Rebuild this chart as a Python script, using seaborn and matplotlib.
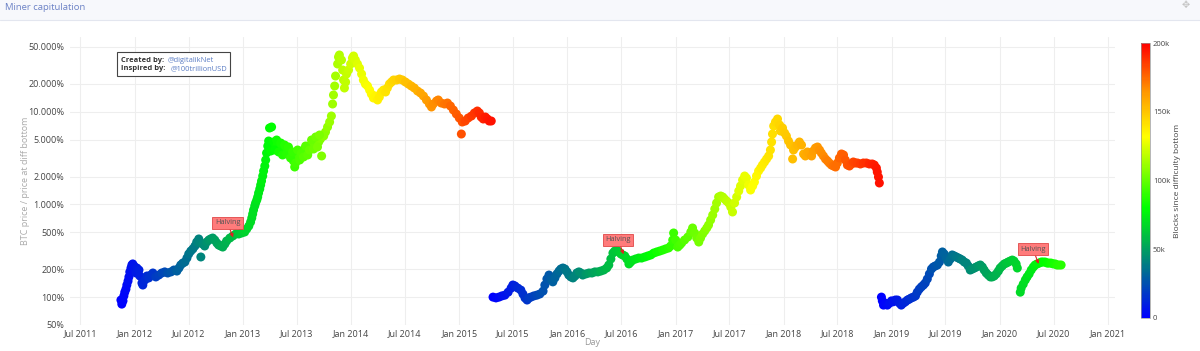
import numpy as np
import pandas as pd
import matplotlib
matplotlib.use('Agg')
import matplotlib.pyplot as plt
import matplotlib.dates as mdates
from matplotlib.colors import LinearSegmentedColormap, Normalize
from matplotlib.cm import ScalarMappable
from matplotlib.patches import Rectangle
from matplotlib.lines import Line2D
from matplotlib.ticker import FixedLocator, NullLocator
import seaborn as sns

# cycle 1: difficulty bottom, days since bottom, price ratio (%), blocks since bottom (thousands)
c1_start = '2011-11-15'
c1_days = [0, 3, 7, 10, 13, 17, 20, 24, 27, 30,
           34, 37, 40, 44, 47, 51, 54, 61, 64, 71,
           74, 81, 88, 94, 101, 108, 118, 128, 138, 148,
           158, 169, 179, 189, 196, 202, 209, 216, 223, 229,
           236, 243, 250, 256, 263, 266, 270, 277, 283, 290,
           297, 303, 310, 317, 324, 330, 337, 344, 351, 357,
           368, 378, 388, 398, 408, 418, 425, 432, 438, 442,
           445, 448, 452, 455, 459, 462, 465, 469, 472, 475,
           479, 482, 486, 489, 492, 496, 499, 502, 509, 506,
           516, 523, 529, 536, 543, 550, 556, 563, 570, 577,
           583, 587, 593, 600, 607, 614, 620, 627, 634, 641,
           647, 654, 661, 668, 674, 678, 685, 691, 698, 705,
           711, 715, 718, 722, 725, 732, 735, 738, 745, 749,
           752, 755, 759, 762, 769, 776, 782, 786, 792, 799,
           806, 813, 819, 826, 833, 840, 846, 853, 860, 867,
           873, 880, 887, 894, 900, 907, 914, 921, 931, 941,
           951, 961, 971, 981, 991, 1002, 1012, 1022, 1032, 1042,
           1049, 1055, 1066, 1072, 1082, 1093, 1103, 1113, 1123, 1133,
           1143, 1150, 1153, 1163, 1173, 1184, 1194, 1204, 1211, 1217,
           1224, 1231, 1238, 1244, 1251,
           519, 526, 533, 540, 546, 553, 560, 566, 573, 580,
           590, 597, 604, 610, 617, 624, 631, 637, 644, 651,
           658, 664, 671]
c1_pct = [93, 84, 91, 103, 113, 122, 135, 149, 165, 187,
          206, 222, 228, 217, 196, 182, 206, 196, 169, 142,
          135, 153, 169, 161, 173, 182, 165, 173, 182, 187,
          182, 187, 196, 191, 206, 222, 233, 239, 264, 292,
          314, 331, 356, 393, 424, 384, 271, 374, 356, 393,
          413, 424, 434, 413, 384, 365, 356, 347, 374, 403,
          434, 457, 480, 480, 492, 504, 543, 585, 646, 714,
          788, 871, 962, 1037, 1117, 1203, 1329, 1467, 1621, 1790,
          2027, 2295, 2599, 3017, 3591, 4272, 4836, 6681, 6849, 3773,
          4718, 4167, 4490, 3965, 4272, 3868, 4064, 3868, 3591, 3251,
          2943, 2535, 3170, 3333, 3417, 3773, 3965, 3681, 4167, 4379,
          4718, 4490, 4958, 4718, 5082, 3333, 5474, 6048, 6849, 7754,
          9000, 12130, 15170, 18970, 24320, 32780, 38990, 40980, 36190, 28230,
          22020, 18050, 20950, 25550, 28230, 32780, 38030, 39970, 36190, 32780,
          29660, 25550, 22020, 19930, 18970, 17170, 15550, 14080, 14790, 13400,
          14430, 16340, 17170, 16340, 18050, 19930, 20950, 22020, 22020, 22570,
          22020, 20950, 19930, 18970, 18050, 16750, 15940, 14790, 13400, 12130,
          11260, 12130, 13070, 13400, 12430, 12130, 12430, 11540, 10450, 9460,
          8564, 5754, 7754, 7950, 8564, 9000, 9700, 10190, 9700, 8780,
          8355, 8780, 8355, 7950, 7950,
          3868, 4958, 3681, 4603, 3417, 4379, 3503, 4167, 3170, 3681,
          2800, 3868, 3017, 3591, 3251, 4272, 3417, 3868, 4958, 3965,
          5342, 4167, 5613]
c1_kblocks = [0, 0, 1, 2, 2, 3, 3, 4, 4, 5,
              5, 6, 6, 7, 7, 8, 8, 10, 10, 11,
              12, 13, 14, 15, 16, 17, 19, 20, 22, 23,
              25, 27, 28, 30, 31, 32, 33, 34, 35, 36,
              37, 38, 39, 40, 41, 42, 42, 43, 44, 46,
              47, 48, 49, 50, 51, 52, 53, 54, 55, 56,
              58, 59, 61, 62, 64, 66, 67, 68, 69, 69,
              70, 70, 71, 71, 72, 73, 73, 74, 74, 75,
              75, 76, 76, 77, 77, 78, 78, 79, 80, 79,
              81, 82, 83, 84, 85, 86, 87, 88, 89, 91,
              92, 92, 93, 94, 95, 96, 97, 98, 100, 101,
              102, 103, 104, 105, 106, 106, 108, 108, 110, 111,
              112, 112, 113, 113, 114, 115, 115, 116, 117, 118,
              118, 119, 119, 120, 121, 122, 123, 123, 124, 125,
              127, 128, 129, 130, 131, 132, 133, 134, 135, 136,
              137, 138, 139, 140, 141, 142, 143, 145, 146, 148,
              149, 151, 152, 154, 156, 157, 159, 160, 162, 164,
              165, 166, 167, 168, 170, 172, 173, 175, 176, 178,
              179, 181, 181, 183, 184, 186, 187, 189, 190, 191,
              192, 193, 194, 195, 196,
              81, 83, 84, 85, 86, 87, 88, 89, 90, 91,
              93, 94, 95, 96, 97, 98, 99, 100, 101, 102,
              103, 104, 105]

# cycle 2
c2_start = '2015-04-25'
c2_days = [0, 10, 20, 30, 40, 51, 61, 67, 74, 84,
           94, 101, 108, 115, 121, 128, 138, 148, 158, 169,
           175, 182, 189, 196, 202, 209, 216, 223, 229, 236,
           243, 250, 256, 263, 270, 277, 283, 290, 297, 303,
           314, 324, 334, 344, 354, 364, 374, 384, 391, 398,
           405, 411, 418, 425, 432, 438, 445, 452, 459, 465,
           472, 482, 492, 502, 513, 523, 533, 543, 553, 563,
           573, 583, 593, 600, 607, 610, 617, 624, 631, 637,
           647, 658, 668, 674, 681, 688, 695, 701, 708, 715,
           722, 728, 735, 742, 749, 755, 762, 769, 776, 782,
           789, 796, 803, 809, 816, 823, 830, 836, 843, 850,
           856, 863, 870, 877, 883, 890, 897, 904, 910, 917,
           924, 931, 937, 941, 944, 948, 954, 961, 968, 971,
           978, 985, 991, 998, 1005, 1012, 1015, 1022, 1028, 1035,
           1042, 1049, 1055, 1062, 1069, 1076, 1082, 1089, 1096, 1103,
           1109, 1116, 1123, 1130, 1136, 1143, 1150, 1157, 1163, 1170,
           1177, 1184, 1190, 1197, 1204, 1211, 1217, 1224, 1231, 1241,
           1251, 1261, 1271, 1281, 1288, 1295, 1298, 1302, 1305]
c2_pct = [100, 98, 100, 103, 105, 113, 125, 135, 132, 125,
          119, 108, 98, 93, 98, 100, 103, 105, 108, 116,
          135, 157, 173, 157, 146, 161, 178, 191, 201, 206,
          201, 187, 173, 165, 161, 169, 182, 187, 182, 173,
          178, 182, 182, 187, 187, 191, 196, 206, 222, 258,
          299, 314, 322, 307, 292, 285, 278, 258, 228, 239,
          251, 258, 264, 264, 271, 278, 285, 299, 307, 314,
          322, 331, 339, 356, 413, 492, 413, 347, 365, 384,
          413, 445, 504, 557, 492, 434, 393, 434, 480, 517,
          557, 600, 679, 769, 893, 1037, 1203, 1233, 1203, 1145,
          1089, 1037, 938, 829, 1037, 1203, 1396, 1581, 1835, 2027,
          1929, 1621, 1431, 1581, 1746, 2027, 2295, 2473, 2664, 2871,
          3093, 3333, 3868, 4718, 5754, 7021, 7754, 8355, 7197, 6201,
          6681, 5899, 5474, 4836, 4379, 3093, 3868, 4167, 4379, 4718,
          4379, 3503, 3333, 3681, 3503, 3333, 3773, 4064, 4167, 3868,
          3591, 3333, 3093, 2943, 2800, 2664, 2599, 2535, 2800, 3170,
          3503, 3417, 3017, 2664, 2599, 2732, 2871, 2800, 2800, 2732,
          2800, 2800, 2732, 2732, 2664, 2473, 2239, 1977, 1704]
c2_kblocks = [0, 2, 3, 5, 6, 8, 9, 10, 11, 13,
              14, 15, 16, 17, 18, 19, 21, 22, 24, 25,
              26, 27, 28, 29, 30, 31, 32, 33, 34, 35,
              36, 38, 38, 39, 41, 42, 42, 44, 45, 45,
              47, 49, 50, 52, 53, 55, 56, 58, 59, 60,
              61, 62, 63, 64, 65, 66, 67, 68, 69, 70,
              71, 72, 74, 75, 77, 78, 80, 81, 83, 84,
              86, 87, 89, 90, 91, 92, 93, 94, 95, 96,
              97, 99, 100, 101, 102, 103, 104, 105, 106, 107,
              108, 109, 110, 111, 112, 113, 114, 115, 116, 117,
              118, 119, 120, 121, 122, 123, 125, 125, 126, 128,
              128, 129, 131, 132, 132, 134, 135, 136, 137, 138,
              139, 140, 141, 141, 142, 142, 143, 144, 145, 146,
              147, 148, 149, 150, 151, 152, 152, 153, 154, 155,
              156, 157, 158, 159, 160, 161, 162, 163, 164, 165,
              166, 167, 168, 170, 170, 171, 173, 174, 174, 176,
              177, 178, 179, 180, 181, 182, 183, 184, 185, 186,
              188, 189, 191, 192, 193, 194, 195, 195, 196]

# cycle 3
c3_start = '2018-11-27'
c3_days = [0, 3, 7, 13, 20, 27, 34, 40, 47, 54,
           61, 67, 74, 81, 88, 94, 101, 108, 115, 121,
           128, 135, 142, 148, 155, 162, 169, 175, 182, 189,
           196, 202, 206, 212, 219, 226, 233, 239, 246, 253,
           260, 266, 273, 280, 287, 293, 300, 307, 314, 320,
           327, 334, 341, 347, 354, 361, 368, 374, 381, 388,
           395, 401, 408, 415, 422, 428, 435, 442, 448, 455,
           459, 469, 472, 479, 486, 492, 499, 506, 513, 519,
           526, 533, 540, 546, 553, 560, 566, 573, 580, 587,
           593, 600, 607]
c3_pct = [100, 91, 82, 86, 82, 86, 91, 89, 93, 93,
          86, 82, 86, 89, 93, 95, 98, 100, 103, 113,
          122, 129, 135, 142, 157, 178, 201, 211, 217, 222,
          239, 278, 307, 292, 264, 239, 258, 285, 278, 271,
          264, 258, 251, 239, 233, 217, 196, 201, 206, 211,
          217, 222, 211, 196, 182, 173, 165, 165, 169, 178,
          191, 206, 217, 228, 233, 239, 245, 251, 245, 228,
          206, 113, 125, 138, 153, 165, 178, 196, 211, 222,
          228, 233, 239, 239, 239, 233, 233, 233, 228, 228,
          222, 222, 222]
c3_kblocks = [0, 0, 1, 2, 3, 4, 5, 6, 7, 8,
              9, 10, 11, 12, 13, 14, 15, 16, 17, 18,
              19, 20, 21, 21, 22, 23, 25, 25, 26, 27,
              28, 29, 30, 31, 32, 33, 34, 35, 36, 37,
              38, 39, 40, 41, 42, 42, 44, 45, 46, 46,
              47, 48, 49, 50, 51, 52, 53, 54, 55, 56,
              57, 58, 59, 60, 61, 62, 63, 64, 65, 66,
              67, 68, 68, 69, 70, 71, 72, 73, 74, 75,
              76, 77, 78, 79, 80, 81, 82, 83, 84, 85,
              86, 87, 88]

halving_dates = ['2012-11-28', '2016-07-09', '2020-05-11']
halving_pct = [440, 290, 228]

ytick_vals = [50, 100, 200, 500, 1000, 2000, 5000, 10000, 20000, 50000]
cbar_ticks = [0, 50000, 100000, 150000, 200000]
cbar_labels = ['0', '50k', '100k', '150k', '200k']

# build one frame
frames = []
for start, days, pct, kb in [(c1_start, c1_days, c1_pct, c1_kblocks),
                             (c2_start, c2_days, c2_pct, c2_kblocks),
                             (c3_start, c3_days, c3_pct, c3_kblocks)]:
    frames.append(pd.DataFrame({
        'Day': pd.Timestamp(start) + pd.to_timedelta(days, unit='D'),
        'pct': pct,
        'blocks': np.array(kb) * 1000,
    }))
df = pd.concat(frames, ignore_index=True)

sns.set_style('white')
plt.rcParams['font.family'] = ['Open Sans', 'DejaVu Sans']

cmap = LinearSegmentedColormap.from_list(
    'cap', [(0, '#0000ff'), (0.4, '#00ff00'), (0.66, '#ffff00'), (0.82, '#ff9900'), (1, '#ff0000')])

W, H = 1200, 351
fig = plt.figure(figsize=(W / 100, H / 100), dpi=100)

# header band
fig.add_artist(Rectangle((0, 1 - 20 / H), 1, 20 / H, transform=fig.transFigure,
                         facecolor='#f7f8fc', edgecolor='none', zorder=0))
fig.add_artist(Line2D([0, 1], [1 - 20 / H] * 2, transform=fig.transFigure, color='#e3e6ef', lw=0.8))
fig.text(5 / W, 1 - 7 / H, 'Miner capitulation', fontsize=6.8, color='#6c82c6', va='center')
fig.text(1186 / W, 1 - 6 / H, '\u2725', fontsize=7, color='#c4c4c4', ha='center', va='center')

ax = fig.add_axes([70 / W, 26 / H, 1045 / W, 288 / H])
sns.scatterplot(data=df, x='Day', y='pct', hue='blocks', palette=cmap, hue_norm=(0, 200000),
                s=42, linewidth=0, legend=False, ax=ax)

ax.set_yscale('log')
ax.set_ylim(50, 64100)
ax.set_xlim(pd.Timestamp('2011-05-27'), pd.Timestamp('2021-01-24'))
ax.yaxis.set_major_locator(FixedLocator(ytick_vals))
ax.yaxis.set_minor_locator(NullLocator())
ax.set_yticklabels([f'{v:,}'.replace(',', '.') + '%' for v in ytick_vals])
ax.xaxis.set_major_locator(mdates.MonthLocator(bymonth=[1, 7]))
ax.xaxis.set_major_formatter(mdates.DateFormatter('%b %Y'))
ax.grid(True, color='#eeeeee', linewidth=0.8)
for sp in ax.spines.values():
    sp.set_visible(False)
ax.tick_params(length=0, labelsize=6.5, colors='#444444')
ax.tick_params(axis='y', pad=4)
ax.tick_params(axis='x', pad=3)

ax.set_ylabel('BTC price / price at diff bottom', fontsize=6.5, color='#aaaaaa')
ax.yaxis.set_label_coords(-0.038, 0.5)
ax.set_xlabel('Day', fontsize=6.5, color='#999999')
ax.xaxis.set_label_coords(0.5, -0.045)

for d, p in zip(halving_dates, halving_pct):
    ax.annotate('Halving', xy=(mdates.date2num(pd.Timestamp(d)), p), xytext=(-4, 10.5),
                textcoords='offset points', ha='center', va='center', fontsize=5.3, color='#555555',
                bbox=dict(boxstyle='square,pad=0.35', fc='#ff7b7b', ec='#e04848', lw=0.6),
                arrowprops=dict(arrowstyle='-|>', color='#e02020', lw=0.8, mutation_scale=5,
                                shrinkA=0, shrinkB=0))

# credits box
fig.add_artist(Rectangle((117 / W, 1 - 76 / H), 113 / W, 24 / H, transform=fig.transFigure,
                         facecolor='white', edgecolor='#444444', lw=0.8, zorder=3))
fig.text(121 / W, 1 - 60 / H, 'Created by:', fontsize=5.4, fontweight='bold', color='#333333', va='center', zorder=4)
fig.text(168 / W, 1 - 60 / H, '@digitalikNet', fontsize=5.4, color='#5a7cc4', va='center', zorder=4)
fig.text(121 / W, 1 - 69 / H, 'Inspired by:', fontsize=5.4, fontweight='bold', color='#333333', va='center', zorder=4)
fig.text(171 / W, 1 - 69 / H, '@100trillionUSD', fontsize=5.4, color='#5a7cc4', va='center', zorder=4)

# colorbar
cax = fig.add_axes([1141 / W, 33 / H, 9 / W, 275 / H])
cb = fig.colorbar(ScalarMappable(norm=Normalize(0, 200000), cmap=cmap), cax=cax)
cb.set_ticks(cbar_ticks, labels=cbar_labels)
cb.outline.set_edgecolor('#999999')
cb.outline.set_linewidth(0.5)
cax.tick_params(length=0, labelsize=5.5, colors='#444444', pad=2)
cb.set_label('Blocks since difficulty bottom', fontsize=6, color='#444444', labelpad=3)

fig.savefig('out.png', dpi=100)
